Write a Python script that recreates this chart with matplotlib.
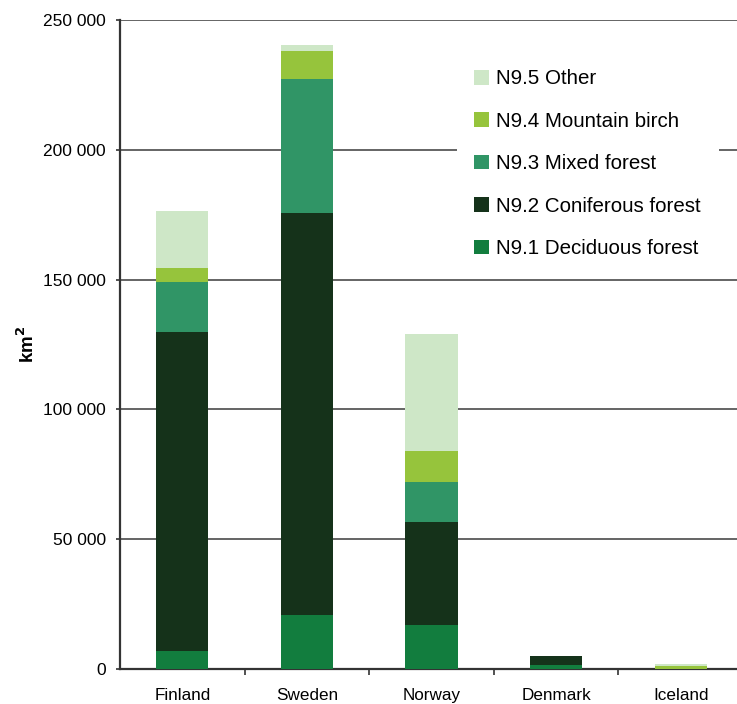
import matplotlib.pyplot as plt
from matplotlib.ticker import FuncFormatter, MultipleLocator
import numpy as np

plt.rcParams['font.family'] = ['Liberation Sans', 'DejaVu Sans']

countries = ['Finland', 'Sweden', 'Norway', 'Denmark', 'Iceland']
deciduous = [6900, 20800, 16900, 1500, 0]
coniferous = [123100, 155000, 39600, 3500, 0]
mixed = [19200, 51500, 15400, 0, 0]
birch = [5400, 10700, 11900, 0, 1100]
other = [21900, 2400, 45400, 0, 700]

series = [
    ('N9.1 Deciduous forest', deciduous, '#127d3e'),
    ('N9.2 Coniferous forest', coniferous, '#15321a'),
    ('N9.3 Mixed forest', mixed, '#309566'),
    ('N9.4 Mountain birch', birch, '#96c43c'),
    ('N9.5 Other', other, '#cee7c7'),
]

fig = plt.figure(figsize=(7.37, 7.04), dpi=100)
ax = fig.add_axes([120 / 737, 1 - 669 / 704, 623 / 737, 649 / 704])

x = np.arange(len(countries))
bottom = np.zeros(len(countries))
handles = []
for name, vals, color in series:
    b = ax.bar(x, vals, width=0.42, bottom=bottom, color=color, label=name, zorder=3)
    bottom += np.array(vals)
    handles.append(b)

ax.set_xlim(-0.5, 4.5)
ax.set_ylim(0, 250000)
ax.yaxis.set_major_locator(MultipleLocator(50000))
ax.yaxis.set_major_formatter(FuncFormatter(lambda v, p: f'{int(v):,}'.replace(',', ' ')))
ax.yaxis.grid(True, color='#3a3a3a', linewidth=1.1, zorder=0)
ax.set_axisbelow(True)

ax.set_xticks(x)
ax.set_xticklabels(countries, fontsize=12.3)
ax.set_xticks(np.arange(0.5, 4.5, 1), minor=True)
ax.tick_params(axis='x', which='major', length=0, pad=14)
ax.tick_params(axis='x', which='minor', length=4.3, width=1.2, color='#333333')
ax.tick_params(axis='y', length=3, width=1.2, color='#333333', labelsize=12.5, pad=7)

for s in ['top', 'right']:
    ax.spines[s].set_visible(False)
for s in ['left', 'bottom']:
    ax.spines[s].set_color('#333333')
    ax.spines[s].set_linewidth(1.6)

ax.set_ylabel('km$^\\mathbf{2}$', fontsize=13.5, fontweight='bold', labelpad=4)

leg = ax.legend(handles=handles[::-1], loc='upper left',
                bbox_to_anchor=(457 / 737, 1 - 52 / 704), bbox_transform=fig.transFigure,
                fontsize=14.8, frameon=True, fancybox=False, facecolor='white',
                edgecolor='none', framealpha=1, handlelength=0.72, handleheight=0.72,
                handletextpad=0.35, labelspacing=1.14, borderpad=0.85, borderaxespad=0)
leg.set_zorder(5)

fig.savefig('out.png', dpi=100)
